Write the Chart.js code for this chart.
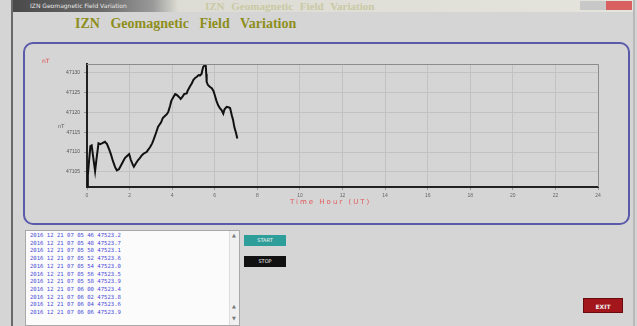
<!DOCTYPE html>
<html>
<head>
<meta charset="utf-8">
<script src="https://cdn.jsdelivr.net/npm/chart.js@4/dist/chart.umd.min.js"></script>
<style>
  html, body { margin: 0; padding: 0; }
  body {
    width: 637px; height: 326px; overflow: hidden; position: relative;
    background: #d5d5d5; font-family: "DejaVu Sans", sans-serif;
  }
  .abs { position: absolute; }
  #frameLine { left: 11px; top: 0; width: 2px; height: 326px; background: #6a6a6a; }
  #rightLine { left: 633px; top: 0; width: 2px; height: 326px; background: #b8b8b8; }
  #titlebar { left: 13px; top: 0; width: 620px; height: 12px;
    background: linear-gradient(to right, #4a4a4a 0px, #6b6b6b 90px, #9a9a9a 140px, #dcdcd4 165px, #e4e4dc 100%); }
  #winTitle { left: 30px; top: 2px; font-size: 6px; color: #e8e8e8; white-space: nowrap; }
  #ghostTitle { left: 205px; top: 0px; font: bold 11px "Liberation Serif", serif; color: #c9c9a4; word-spacing: 4px; white-space: nowrap; }
  #winBtns { left: 580px; top: 1px; width: 52px; height: 9px;
    background: linear-gradient(to right, #c8c8c8 0 50%, #d86060 50% 100%); }
  #mainTitle { left: 75px; top: 16px; font: bold 14px "Liberation Serif", serif; color: #8e8e1c; word-spacing: 7px; white-space: nowrap; }
  #panel { left: 23px; top: 42px; width: 603px; height: 179px; border: 2px solid #5a5aaa; border-radius: 10px; }
  #chartBox { left: 28px; top: 47px; width: 599px; height: 175px; }
  #unitTop { left: 42px; top: 57px; font-size: 6px; color: #e04848; }
  #unitSide { left: 58px; top: 123px; font-size: 5px; color: #555; }
  #xTitle { left: 290px; top: 198px; font-size: 7px; color: #e05a5a; letter-spacing: 2px; white-space: nowrap; }
  #listBox { left: 25px; top: 230px; width: 215px; height: 96px; background: #fbfbfb; border: 1px solid #a8a8a8; box-sizing: border-box; }
  #listText { left: 4px; top: 1px; font: 5.6px "DejaVu Sans Mono", monospace; color: #4a4ad8; line-height: 7.7px; white-space: pre; }
  #scroll { right: 0; top: 0; width: 9px; height: 100%; background: #f0f0f0; border-left: 1px solid #dcdcdc; }
  .arrow { left: 2px; font-size: 5px; color: #777; }
  .btn { color: #f0f0f0; font-size: 5px; text-align: center; box-sizing: border-box; }
  #startBtn { left: 244px; top: 235px; width: 42px; height: 11px; line-height: 11px; background: #2e9e9a; }
  #stopBtn { left: 244px; top: 256px; width: 42px; height: 11px; line-height: 11px; background: #111; }
  #exitBtn { left: 583px; top: 298px; width: 40px; height: 15px; line-height: 15px; background: #a3161c; border: 1px solid #6a0a0e; font-weight: bold; font-size: 6px; }
</style>
</head>
<body>
<div class="abs" id="frameLine"></div>
<div class="abs" id="rightLine"></div>
<div class="abs" id="titlebar"></div>
<div class="abs" id="winTitle">IZN Geomagnetic Field Variation</div>
<div class="abs" id="ghostTitle">IZN Geomagnetic Field Variation</div>
<div class="abs" id="winBtns"></div>
<div class="abs" id="mainTitle">IZN Geomagnetic Field Variation</div>
<div class="abs" id="panel"></div>
<div class="abs" id="chartBox"><canvas id="chart" width="599" height="175"></canvas></div>
<div class="abs" id="unitTop">nT</div>
<div class="abs" id="unitSide">nT</div>
<div class="abs" id="xTitle">Time Hour (UT)</div>
<div class="abs" id="listBox">
  <div class="abs" id="listText"></div>
  <div class="abs" id="scroll">
    <div class="abs arrow" style="top:1px">▲</div>
    <div class="abs arrow" style="top:72px">▲</div>
    <div class="abs arrow" style="top:84px">▼</div>
  </div>
</div>
<div class="abs btn" id="startBtn">START</div>
<div class="abs btn" id="stopBtn">STOP</div>
<div class="abs btn" id="exitBtn">EXIT</div>

<script>
// Total field readings: hour of day (UT) and field in nT
const hours = [
  0.02, 0.04, 0.10, 0.16, 0.22, 0.28, 0.38, 0.44, 0.54, 0.62, 0.70, 0.84, 0.94, 1.04, 1.12,
  1.22, 1.32, 1.40, 1.50, 1.60, 1.70, 1.78, 1.88, 1.98, 2.06, 2.16, 2.20, 2.30, 2.40, 2.48,
  2.58, 2.68, 2.80, 2.86, 2.96, 3.06, 3.12, 3.22, 3.34, 3.48, 3.56, 3.66, 3.76, 3.82, 3.90,
  3.96, 4.06, 4.14, 4.22, 4.32, 4.40, 4.48, 4.56, 4.68, 4.74, 4.84, 4.92, 5.00, 5.08, 5.16,
  5.24, 5.30, 5.38, 5.42, 5.46, 5.52, 5.58, 5.60, 5.62, 5.68, 5.78, 5.86, 5.94, 6.00, 6.08,
  6.16, 6.24, 6.32, 6.40, 6.46, 6.56, 6.64, 6.72, 6.80, 6.86, 6.92, 7.00, 7.06
];
const fieldNT = [
  47101.4, 47104.2, 47108.0, 47111.5, 47111.7, 47109.2, 47105.2, 47108.0, 47112.2, 47112.0, 47112.2, 47112.6, 47112.0, 47110.7, 47109.5,
  47107.7, 47106.2, 47105.4, 47105.7, 47106.7, 47107.7, 47108.5, 47109.0, 47109.5, 47108.0, 47106.7, 47106.3, 47107.2, 47108.0, 47108.5,
  47109.2, 47109.7, 47110.0, 47110.5, 47111.2, 47112.2, 47113.0, 47114.5, 47116.4, 47117.5, 47118.6, 47119.1, 47119.6, 47120.2, 47121.6,
  47122.9, 47123.9, 47124.6, 47124.4, 47123.9, 47123.4, 47123.9, 47124.6, 47124.8, 47125.6, 47126.6, 47127.3, 47128.2, 47128.7, 47129.0,
  47129.4, 47129.3, 47129.7, 47130.7, 47131.5, 47131.8, 47131.7, 47129.7, 47127.7, 47126.9, 47126.4, 47126.1, 47125.4, 47124.4, 47122.9,
  47121.8, 47121.1, 47120.6, 47119.7, 47120.8, 47121.4, 47121.3, 47121.1, 47119.3, 47118.1, 47116.3, 47114.8, 47113.4
];
const yTicks = [47105, 47110, 47115, 47120, 47125, 47130];
const xTicks = [0, 2, 4, 6, 8, 10, 12, 14, 16, 18, 20, 22, 24];

// Log rows shown in the list box
const logRows = [
  "2016 12 21 07 05 46 47523.2",
  "2016 12 21 07 05 48 47523.7",
  "2016 12 21 07 05 50 47523.1",
  "2016 12 21 07 05 52 47523.6",
  "2016 12 21 07 05 54 47523.0",
  "2016 12 21 07 05 56 47523.5",
  "2016 12 21 07 05 58 47523.9",
  "2016 12 21 07 06 00 47523.4",
  "2016 12 21 07 06 02 47523.8",
  "2016 12 21 07 06 04 47523.6",
  "2016 12 21 07 06 06 47523.9"
];
document.getElementById('listText').textContent = logRows.join('\n');

const points = hours.map((h, i) => ({ x: h, y: fieldNT[i] }));

// Light frame along top and right of the plot
const plotFrame = {
  id: 'plotFrame',
  afterDraw(chart) {
    const a = chart.chartArea, ctx = chart.ctx;
    ctx.save();
    ctx.strokeStyle = '#8c8c8c';
    ctx.lineWidth = 1;
    ctx.beginPath();
    ctx.moveTo(a.left, a.top + 0.5);
    ctx.lineTo(a.right + 0.5, a.top + 0.5);
    ctx.lineTo(a.right + 0.5, a.bottom);
    ctx.stroke();
    ctx.restore();
  }
};

new Chart(document.getElementById('chart'), {
  type: 'line',
  data: {
    datasets: [{
      data: points,
      borderColor: '#111',
      borderWidth: 2,
      pointRadius: 0,
      tension: 0,
      fill: false
    }]
  },
  options: {
    responsive: false,
    animation: false,
    layout: { padding: { top: 17, right: 29, left: 0, bottom: 0 } },
    plugins: { legend: { display: false }, tooltip: { enabled: false } },
    scales: {
      x: {
        type: 'linear',
        min: 0, max: 24,
        afterBuildTicks(s) { s.ticks = xTicks.map(v => ({ value: v })); },
        afterFit(s) { s.height = 35; },
        grid: { color: '#c2c2c2', lineWidth: 1, tickLength: 3, tickColor: '#999' },
        border: { color: '#222', width: 2 },
        ticks: { color: '#666', font: { size: 5 }, padding: 3, maxRotation: 0, callback: v => String(v) }
      },
      y: {
        min: 47101.2, max: 47132.2,
        afterBuildTicks(s) { s.ticks = yTicks.map(v => ({ value: v })); },
        afterFit(s) { s.width = 59; },
        grid: { color: '#c2c2c2', lineWidth: 1, tickLength: 3, tickColor: '#999' },
        border: { color: '#222', width: 2 },
        ticks: { color: '#555', font: { size: 5 }, padding: 4, callback: v => String(v) }
      }
    }
  },
  plugins: [plotFrame]
});
</script>
</body>
</html>
